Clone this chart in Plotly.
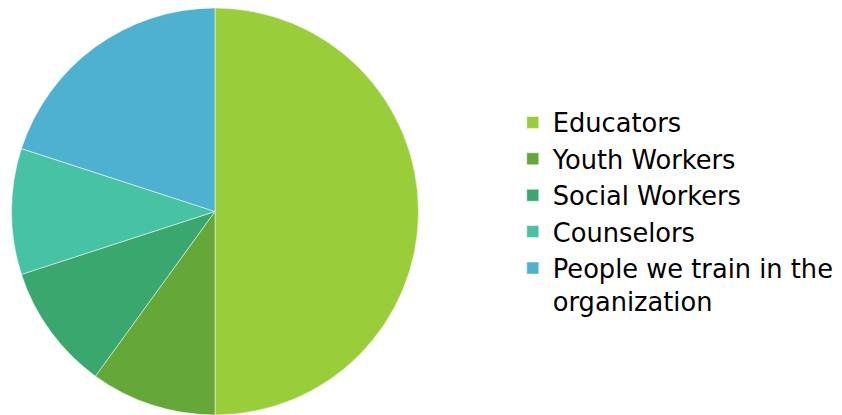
import plotly.graph_objects as go

labels = ["Educators", "Youth Workers", "Social Workers", "Counselors",
          "People we train in the<br>organization"]
values = [50, 10, 10, 10, 20]
colors = ["#9ACD3A", "#65A739", "#3AA76F", "#47C2A4", "#4EB1CF"]

fig = go.Figure(go.Pie(
    labels=labels, values=values, sort=False, direction="clockwise", rotation=0,
    marker=dict(colors=colors, line=dict(color="white", width=0.5)),
    textinfo="none", hoverinfo="label+percent",
    domain=dict(x=[0.00356, 0.4881], y=[0.0193, 1.0]),
))
fig.update_layout(
    width=842, height=415, margin=dict(l=0, r=0, t=0, b=0),
    paper_bgcolor="white", plot_bgcolor="white",
    font=dict(family="DejaVu Sans", size=25.7, color="#000000"),
    legend=dict(x=0.5995, y=0.508, xanchor="left", yanchor="middle",
                font=dict(size=25.7), itemwidth=30, tracegroupgap=0,
                valign="top"),
)
fig.write_html("out.html")
